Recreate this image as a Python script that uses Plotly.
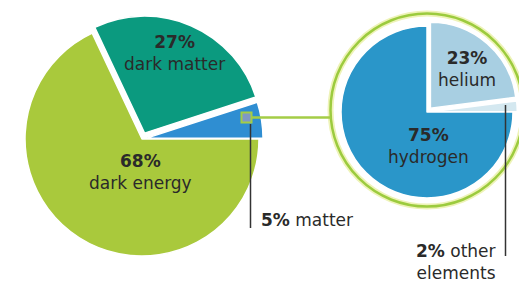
import plotly.graph_objects as go

# ---- data ----
universe_labels = ["dark energy", "dark matter", "matter"]
universe_values = [68, 27, 5]
universe_colors = ["#a9c93c", "#0b9a7f", "#2f8ed2"]

matter_labels = ["helium", "other elements", "hydrogen"]
matter_values = [23, 2, 75]
matter_colors = ["#a8cfe2", "#d4e8f0", "#2a96c9"]

# ---- layout constants (pixels) ----
W, H = 519, 286
FONT = "DejaVu Sans"
TXT = "#2a2a2a"

def px(x):
    return x / W

def py(y):
    return 1 - y / H

def domain(cx, cy, half):
    return dict(x=[max(0, px(cx - half)), min(1, px(cx + half))],
                y=[max(0, py(cy + half)), min(1, py(cy - half))])

# left pie
L_CX, L_CY, L_R = 142, 139, 117
L_PULL = [0, 0.055, 0.035]
# right pie
R_CX, R_CY, R_R = 427, 112, 86
R_PULL = [0.06, 0.05, 0]

fig = go.Figure()
fig.add_trace(go.Pie(
    labels=universe_labels, values=universe_values, sort=False,
    direction="clockwise", rotation=90, pull=L_PULL,
    marker=dict(colors=universe_colors, line=dict(color="white", width=1.5)),
    textinfo="none", hoverinfo="label+percent", showlegend=False,
    domain=domain(L_CX, L_CY, L_R * (1 + max(L_PULL))),
))
fig.add_trace(go.Pie(
    labels=matter_labels, values=matter_values, sort=False,
    direction="clockwise", rotation=0, pull=R_PULL,
    marker=dict(colors=matter_colors, line=dict(color="white", width=1.5)),
    textinfo="none", hoverinfo="label+percent", showlegend=False,
    domain=domain(R_CX, R_CY, R_R * (1 + max(R_PULL))),
))

# ---- decorations ----
RING_CX, RING_CY, RING_R = 427, 110, 96.5
shapes = []
shapes.append(dict(type="circle", xref="paper", yref="paper",
                   x0=px(RING_CX - RING_R), x1=px(RING_CX + RING_R),
                   y0=py(RING_CY + RING_R), y1=py(RING_CY - RING_R),
                   line=dict(color="#eef3b8", width=6), layer="below"))
shapes.append(dict(type="circle", xref="paper", yref="paper",
                   x0=px(RING_CX - RING_R), x1=px(RING_CX + RING_R),
                   y0=py(RING_CY + RING_R), y1=py(RING_CY - RING_R),
                   line=dict(color="#9ccb3e", width=2.5)))
# connector from small square to ring
shapes.append(dict(type="line", xref="paper", yref="paper",
                   x0=px(252), x1=px(RING_CX - RING_R), y0=py(117.5), y1=py(117.5),
                   line=dict(color="#a4cd46", width=2.5)))
shapes.append(dict(type="rect", xref="paper", yref="paper",
                   x0=px(241.5), x1=px(251.5), y0=py(122.5), y1=py(112.5),
                   fillcolor="#7f98c6", line=dict(color="#a4cd46", width=2)))
# leader lines
shapes.append(dict(type="line", xref="paper", yref="paper",
                   x0=px(250.5), x1=px(250.5), y0=py(124), y1=py(228),
                   line=dict(color="#333333", width=1.5)))
shapes.append(dict(type="line", xref="paper", yref="paper",
                   x0=px(505.5), x1=px(505.5), y0=py(105), y1=py(256),
                   line=dict(color="#333333", width=1.5)))

# ---- labels ----
def lbl(values, labels, name, br=True):
    i = labels.index(name)
    sep = "<br>" if br else " "
    return f"<b>{values[i]}%</b>{sep}{name}"

annotations = []
label_pos = [
    (lbl(universe_values, universe_labels, "dark matter"), 174, 53, "center", "center"),
    (lbl(universe_values, universe_labels, "dark energy"), 140, 172, "center", "center"),
    (lbl(universe_values, universe_labels, "matter", br=False), 259, 220, "left", "left"),
    (lbl(matter_values, matter_labels, "helium"), 467, 69, "center", "center"),
    (lbl(matter_values, matter_labels, "hydrogen"), 428, 146, "center", "center"),
    (f"<b>{matter_values[1]}%</b> other<br>elements", 498, 262, "right", "right"),
]
for text, x, y, xa, al in label_pos:
    annotations.append(dict(text=text, x=px(x), y=py(y), xref="paper", yref="paper",
                            xanchor=xa, yanchor="middle", align=al, showarrow=False,
                            font=dict(family=FONT, size=17, color=TXT)))

fig.update_layout(
    width=W, height=H, margin=dict(l=0, r=0, t=0, b=0),
    paper_bgcolor="white", plot_bgcolor="white",
    shapes=shapes, annotations=annotations,
)
fig.write_html("out.html", config={"displayModeBar": False},
               post_script="document.body.style.margin='0';document.body.style.overflow='hidden';")
